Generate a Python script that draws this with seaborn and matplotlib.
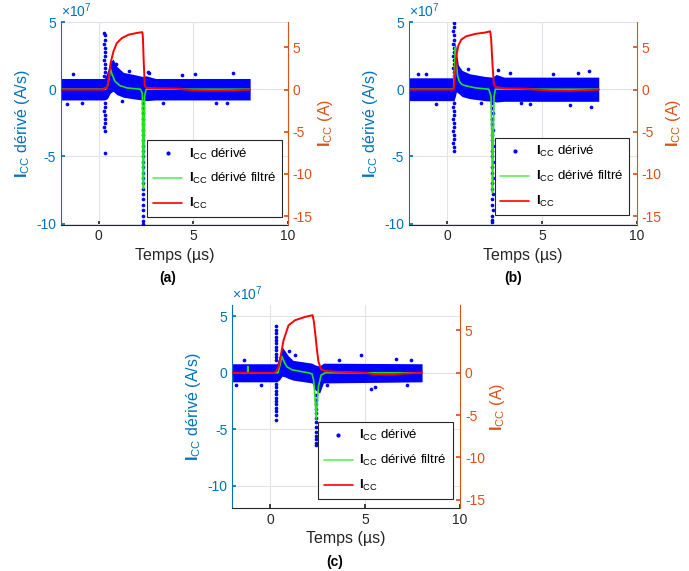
import numpy as np
import pandas as pd
import seaborn as sns
import matplotlib.pyplot as plt
from matplotlib.lines import Line2D
from matplotlib.ticker import FuncFormatter

# colours (MATLAB defaults for yyaxis)
C_LEFT = "#0072BD"
C_RIGHT = "#D95319"
C_AX = "#262626"
C_DOT = "#0000ff"
C_GREEN = "#22e022"
C_RED = "#ff0000"

# ---------------- panel (a) ----------------
# I_CC (A), right axis
t_red_a = [-2, 0.26, 0.28, 0.44, 0.5, 0.62, 0.77, 0.95, 1.22, 1.57, 2.0, 2.3, 2.33, 2.37, 2.43, 2.52, 3.0, 4.0, 4.5, 5.0, 6.0, 7.0, 7.5, 8.0]
i_red_a = [0, 0, 0.17, 0.2, 0.95, 3.1, 4.5, 5.5, 6.1, 6.5, 6.7, 6.8, 6.2, 3.5, 0.4, 0.2, 0.15, 0.12, 0.02, -0.08, -0.12, -0.1, -0.05, 0]
# filtered derivative (x1e7 A/s)
t_grn_a = [-2, 0.36, 0.45, 0.55, 0.62, 0.7, 0.85, 1.1, 1.48, 2.2, 2.3, 2.34, 2.36, 2.38, 2.42, 2.5, 8.0]
d_grn_a = [0, 0, 0.2, 0.9, 1.5, 1.1, 0.6, 0.28, 0.1, 0.0, -0.3, -6.0, -7.4, -5.0, -0.5, 0, 0]
# dense noise band of the raw derivative (x1e7 A/s)
t_band_a = [-2, 0.3, 0.45, 0.6, 0.75, 0.95, 1.3, 2.0, 2.3, 2.5, 3.0, 8.0]
hi_band_a = [0.8, 0.8, 1.3, 2.0, 2.25, 1.7, 1.25, 1.05, 0.95, 1.0, 0.8, 0.8]
lo_band_a = [-0.8, -0.8, -0.7, -0.3, -0.15, -0.4, -0.6, -0.75, -0.8, -0.85, -0.8, -0.8]
# isolated raw points (spikes + outliers)
t_pts_a = [0.30, 0.31, 0.32, 0.30, 0.33, 0.31, 0.32, 0.30, 0.33, 0.31, 0.32, 0.30,
           0.31, 0.32, 0.30, 0.33, 0.31, 0.32, 0.30, 0.33, 0.31,
           2.34, 2.35, 2.36, 2.34, 2.35, 2.36, 2.34, 2.35, 2.36, 2.34, 2.35, 2.36,
           2.34, 2.35, 2.36, 2.34, 2.35, 2.36, 2.34, 2.35, 2.36, 2.34, 2.35, 2.35,
           -1.36, -0.9, 0.9, 1.2, 2.6, 2.65, 3.4, 5.08, 6.2, 7.1, -1.7, 1.6, 4.4, 6.8]
d_pts_a = [4.2, 4.0, 3.7, 3.4, 3.1, 2.8, 2.5, 2.2, 1.9, 1.6, 1.3, 1.0,
           -1.0, -1.3, -1.6, -1.9, -2.2, -2.5, -2.8, -3.1, -4.75,
           -1.0, -1.4, -1.8, -2.2, -2.6, -3.0, -3.4, -3.8, -4.2, -4.6, -5.0, -5.4,
           -5.8, -6.2, -6.6, -7.0, -7.4, -7.8, -8.2, -8.6, -9.0, -9.4, -9.8, -10.0,
           1.1, -1.05, 1.9, -0.85, 1.3, 1.2, -1.0, 1.15, -1.05, 1.2, -1.1, 1.35, 1.05, -1.0]

# ---------------- panel (b) ----------------
t_red_b = [-2, 0.33, 0.36, 0.42, 0.5, 0.6, 0.75, 1.0, 1.5, 2.0, 2.28, 2.33, 2.4, 2.47, 2.55, 3.0, 4.0, 4.6, 5.5, 6.5, 7.3, 8.0]
i_red_b = [0, 0, 0.1, 1.5, 4.0, 5.2, 5.9, 6.3, 6.6, 6.75, 6.9, 6.0, 3.0, 0.6, 0.3, 0.15, 0.1, 0, -0.12, -0.15, -0.08, 0]
t_grn_b = [-2, 0.3, 0.35, 0.4, 0.44, 0.49, 0.56, 0.66, 0.8, 1.0, 1.5, 2.2, 2.32, 2.37, 2.4, 2.44, 2.48, 2.55, 8.0]
d_grn_b = [0, 0, 0.1, 1.5, 3.1, 2.0, 1.0, 0.55, 0.35, 0.25, 0.1, 0, -0.5, -4.0, -7.7, -4.0, -0.6, 0, 0]
t_band_b = [-2, 0.3, 0.36, 0.43, 0.5, 0.6, 0.8, 1.2, 2.0, 2.4, 2.6, 3.0, 8.0]
hi_band_b = [0.85, 0.85, 2.0, 3.6, 2.8, 1.8, 1.4, 1.15, 0.95, 0.9, 1.1, 0.9, 0.9]
lo_band_b = [-0.85, -0.85, -0.9, -0.6, -0.2, -0.3, -0.55, -0.7, -0.85, -0.9, -0.95, -0.9, -0.9]
t_pts_b = [0.35, 0.36, 0.34, 0.35, 0.36, 0.34, 0.35, 0.36, 0.34, 0.35, 0.36, 0.34, 0.35, 0.36,
           0.35, 0.34, 0.36, 0.35, 0.34, 0.36, 0.35, 0.34, 0.36, 0.35, 0.34, 0.36, 0.35,
           2.39, 2.40, 2.41, 2.39, 2.40, 2.41, 2.39, 2.40, 2.41, 2.39, 2.40, 2.41,
           2.39, 2.40, 2.41, 2.39, 2.40, 2.41, 2.39, 2.40, 2.41, 2.39, 2.40, 2.40,
           -1.5, -0.6, 1.1, 1.8, 2.7, 3.3, 4.4, 5.6, 6.5, 7.5, 7.6, -1.1, 3.9, 6.9]
d_pts_b = [4.9, 4.6, 4.3, 4.0, 3.7, 3.4, 3.1, 2.8, 2.5, 2.2, 1.9, 1.6, 1.3, 1.0,
           -1.0, -1.3, -1.6, -1.9, -2.2, -2.5, -2.8, -3.1, -3.4, -3.7, -4.0, -4.3, -4.6,
           -1.0, -1.4, -1.8, -2.2, -2.6, -3.0, -3.4, -3.8, -4.2, -4.6, -5.0, -5.4,
           -5.8, -6.2, -6.6, -7.0, -7.4, -7.8, -8.2, -8.6, -9.0, -9.4, -9.9, -9.7,
           1.15, -1.1, 1.5, -1.0, 1.4, 1.2, -1.1, 1.15, -1.15, 1.35, -1.3, 1.1, -1.05, 1.2]

# ---------------- panel (c) ----------------
t_red_c = [-2, 0.2, 0.3, 0.44, 0.55, 0.7, 0.96, 1.3, 1.84, 2.23, 2.3, 2.37, 2.46, 2.54, 2.68, 2.9, 3.5, 4.3, 5.0, 5.5, 6.5, 7.0, 8.0]
i_red_c = [0, 0, 0.15, 0.7, 2.0, 3.85, 5.6, 6.2, 6.6, 6.8, 6.0, 4.6, 2.7, 1.3, 0.4, 0.2, 0.12, 0.08, 0, -0.18, -0.2, -0.1, 0]
t_grn_c = [-2, -1.19, -1.185, -1.17, -1.165, 0.4, 0.5, 0.61, 0.75, 0.88, 1.14, 1.67, 2.0, 2.2, 2.28, 2.34, 2.42, 2.48, 2.54, 2.68, 2.9, 8.0]
d_grn_c = [0, 0, 0.55, 0.55, 0, 0, 0.6, 1.45, 0.9, 0.53, 0.27, 0.1, 0, -0.1, -0.65, -1.7, -4.1, -2.5, -1.2, -0.2, 0, 0]
t_band_c = [-2, 0.35, 0.5, 0.62, 0.75, 0.95, 1.2, 1.8, 2.2, 2.35, 2.6, 2.8, 8.0]
hi_band_c = [0.8, 0.8, 1.6, 2.3, 2.0, 1.5, 1.1, 0.95, 0.85, 0.7, 0.6, 0.85, 0.8]
lo_band_c = [-0.8, -0.8, -0.6, -0.3, -0.35, -0.5, -0.65, -0.8, -0.9, -1.5, -1.8, -0.9, -0.8]
t_pts_c = [0.30, 0.31, 0.29, 0.30, 0.31, 0.29, 0.30, 0.31, 0.29, 0.30, 0.31,
           0.30, 0.29, 0.31, 0.30, 0.29, 0.31, 0.30, 0.29, 0.31, 0.30, 0.29,
           2.40, 2.41, 2.42, 2.40, 2.41, 2.42, 2.40, 2.41, 2.42, 2.40, 2.41, 2.42, 2.41,
           -1.4, -0.5, 1.0, 1.3, 3.0, 4.79, 5.3, 5.5, 6.6, 7.4, 7.2, -1.8, 3.6]
d_pts_c = [4.1, 3.8, 3.5, 3.2, 2.9, 2.6, 2.3, 2.0, 1.7, 1.4, 1.1,
           -1.0, -1.3, -1.6, -1.9, -2.2, -2.5, -2.8, -3.1, -3.4, -3.7, -4.2,
           -2.0, -2.4, -2.8, -3.2, -3.6, -4.0, -4.4, -4.8, -5.2, -5.6, -5.9, -6.2, -6.4,
           1.1, -1.05, 1.9, 1.6, -1.05, 1.57, -1.4, -1.3, 1.2, 1.15, -1.1, -1.05, 1.1]

panels = [
    dict(t_red=t_red_a, i_red=i_red_a, t_grn=t_grn_a, d_grn=d_grn_a, t_band=t_band_a,
         hi=hi_band_a, lo=lo_band_a, t_pts=t_pts_a, d_pts=d_pts_a,
         rect=[0.0885, 0.6068, 0.3295, 0.3546], ylim=(-10.07, 5.0), yticks=[-10, -5, 0, 5],
         tag="(a)", tag_x=0.471, leg=(0.975, 0.035)),
    dict(t_red=t_red_b, i_red=i_red_b, t_grn=t_grn_b, d_grn=d_grn_b, t_band=t_band_b,
         hi=hi_band_b, lo=lo_band_b, t_pts=t_pts_b, d_pts=d_pts_b,
         rect=[0.5936, 0.6068, 0.3305, 0.3546], ylim=(-10.07, 5.0), yticks=[-10, -5, 0, 5],
         tag="(b)", tag_x=0.458, leg=(0.968, 0.045)),
    dict(t_red=t_red_c, i_red=i_red_c, t_grn=t_grn_c, d_grn=d_grn_c, t_band=t_band_c,
         hi=hi_band_c, lo=lo_band_c, t_pts=t_pts_c, d_pts=d_pts_c,
         rect=[0.3372, 0.1098, 0.3305, 0.356], ylim=(-12.0, 6.0), yticks=[-10, -5, 0, 5],
         tag="(c)", tag_x=0.451, leg=(0.968, 0.044)),
]

sns.set_theme(style="white")
plt.rcParams['font.family'] = ['Liberation Sans', 'DejaVu Sans']
plt.rcParams['mathtext.fontset'] = 'custom'
plt.rcParams['mathtext.rm'] = 'Liberation Sans'
plt.rcParams['mathtext.bf'] = 'Liberation Sans:bold'
plt.rcParams['mathtext.it'] = 'Liberation Sans:italic'
plt.rcParams['axes.unicode_minus'] = False

fig = plt.figure(figsize=(6.89, 5.71), dpi=100)
fig.patch.set_facecolor("white")

lab_raw = r"$\mathbf{I}_{\mathrm{CC}}$ dérivé"
lab_filt = r"$\mathbf{I}_{\mathrm{CC}}$ dérivé filtré"
lab_icc = r"$\mathbf{I}_{\mathrm{CC}}$"

for p in panels:
    ax = fig.add_axes(p["rect"])
    ax.set_facecolor("white")
    scale = 1e7

    # raw derivative: dense band + isolated points
    ax.fill_between(np.array(p["t_band"]), np.array(p["lo"]) * scale, np.array(p["hi"]) * scale,
                    color=C_DOT, linewidth=0, zorder=2)
    sns.scatterplot(x=np.array(p["t_pts"]), y=np.array(p["d_pts"]) * scale, ax=ax,
                    color=C_DOT, s=7, linewidth=0, legend=False, zorder=3)
    # filtered derivative
    sns.lineplot(x=np.array(p["t_grn"]), y=np.array(p["d_grn"]) * scale, ax=ax,
                 sort=False, estimator=None, color=C_GREEN, linewidth=1.2, zorder=4)

    ax.set_xlim(-2, 10)
    ax.set_ylim(p["ylim"][0] * scale, p["ylim"][1] * scale)
    ax.set_xticks([0, 5, 10])
    ax.set_yticks(np.array(p["yticks"]) * scale)
    ax.yaxis.set_major_formatter(FuncFormatter(lambda v, pos: f"{v / 1e7:g}"))
    ax.text(0.0, 1.008, r"$\times\mathregular{10^{7}}$", transform=ax.transAxes,
            ha="left", va="bottom", color=C_LEFT, fontsize=10)

    ax.grid(True, color="#dfe5ea", linewidth=0.8)
    ax.set_axisbelow(True)
    for s in ["top", "right"]:
        ax.spines[s].set_visible(False)
    ax.spines["left"].set_color(C_LEFT)
    ax.spines["bottom"].set_color(C_AX)
    ax.spines["left"].set_linewidth(0.8)
    ax.spines["bottom"].set_linewidth(0.8)
    ax.tick_params(axis="y", colors=C_LEFT, direction="in", length=3, labelsize=10, left=True)
    ax.tick_params(axis="x", colors=C_AX, direction="in", length=3, labelsize=10, bottom=True)
    ax.set_ylabel(r"$\mathbf{I}_{\mathrm{CC}}$ dérivé (A/s)", color=C_LEFT, fontsize=11.5, labelpad=3)
    ax.set_xlabel("Temps (µs)", color=C_AX, fontsize=11.5, labelpad=3)
    ax.text(p["tag_x"], -0.265, p["tag"], transform=ax.transAxes, ha="center", va="center",
            fontsize=10, fontweight="bold", color="black")

    # I_CC on right axis
    ax2 = ax.twinx()
    sns.lineplot(x=np.array(p["t_red"]), y=np.array(p["i_red"]), ax=ax2,
                 sort=False, estimator=None, color=C_RED, linewidth=1.4, zorder=5)
    ax2.set_ylim(-16, 8)
    ax2.set_yticks([-15, -10, -5, 0, 5])
    ax2.set_xlim(-2, 10)
    for s in ["top", "left", "bottom"]:
        ax2.spines[s].set_visible(False)
    ax2.spines["right"].set_color(C_RIGHT)
    ax2.spines["right"].set_linewidth(0.8)
    ax2.tick_params(axis="y", colors=C_RIGHT, direction="in", length=3, labelsize=10, right=True)
    ax2.set_ylabel(r"$\mathbf{I}_{\mathrm{CC}}$ (A)", color=C_RIGHT, fontsize=11.5, labelpad=2)
    ax2.grid(False)

    handles = [
        Line2D([], [], marker=".", linestyle="none", color=C_DOT, markersize=4),
        Line2D([], [], color="#5cf05c", linewidth=1.2),
        Line2D([], [], color=C_RED, linewidth=1.2),
    ]
    leg = ax2.legend(handles, [lab_raw, lab_filt, lab_icc], loc="lower right",
                     bbox_to_anchor=p["leg"], fontsize=9.5, frameon=True, fancybox=False,
                     framealpha=1, edgecolor=C_AX, handlelength=2.2, borderpad=0.45,
                     labelspacing=0.75, handletextpad=0.5, borderaxespad=0)
    leg.get_frame().set_linewidth(0.8)
    for txt in leg.get_texts():
        txt.set_color("black")

fig.savefig("out.png", dpi=100)
